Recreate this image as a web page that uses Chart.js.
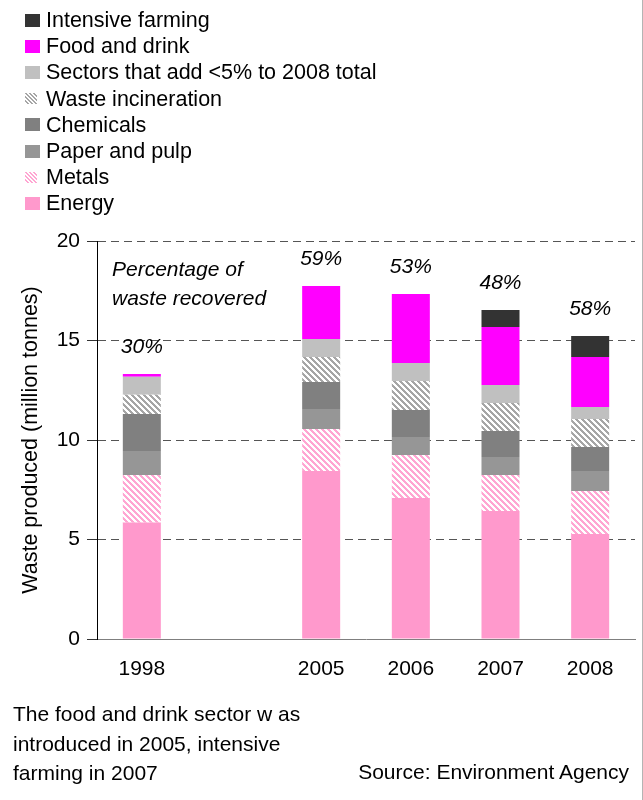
<!DOCTYPE html>
<html>
<head>
<meta charset="utf-8">
<script src="https://cdn.jsdelivr.net/npm/chart.js@4/dist/chart.umd.min.js"></script>
<style>
  html, body { margin:0; padding:0; background:#fff; }
  body { width:643px; height:800px; position:relative; overflow:hidden; font-family:"Liberation Sans", Arial, sans-serif; color:#000; }
  #c { position:absolute; left:0; top:0; }
  .t { position:absolute; white-space:nowrap; font-size:21px; height:26px; line-height:26px; }
  .lg { position:absolute; white-space:nowrap; font-size:21.5px; height:26px; line-height:26px; left:46px; }
  .sw { position:absolute; left:25px; }
  #edge { position:absolute; left:642px; top:0; width:1px; height:800px; background:#b4b4b4; }
</style>
</head>
<body>
<canvas id="c" width="643" height="800"></canvas>
<div id="legend"></div>
<div class="t" style="left:13px; top:701px;">The food and drink sector w as</div>
<div class="t" style="left:13px; top:731px;">introduced in 2005, intensive</div>
<div class="t" style="left:13px; top:760px;">farming in 2007</div>
<div class="t" style="right:14px; top:759px;">Source: Environment Agency</div>
<div id="edge"></div>
<script>
// ---- data ----
const categories = ['1998', '', '2005', '2006', '2007', '2008'];
const energy     = [5.86, null, 8.44, 7.09, 6.43, 5.28];
const metals     = [2.38, null, 2.11, 2.16, 1.81, 2.16];
const paperPulp  = [1.21, null, 1.01, 0.90, 0.91, 1.00];
const chemicals  = [1.86, null, 1.35, 1.36, 1.30, 1.21];
const wasteInc   = [0.97, null, 1.26, 1.45, 1.41, 1.41];
const sectors    = [0.90, null, 0.91, 0.91, 0.90, 0.60];
const foodDrink  = [0.14, null, 2.66, 3.47, 2.92, 2.51];
const intensive  = [0.00, null, 0.00, 0.00, 0.85, 1.06];
const recovered  = ['30%', '', '59%', '53%', '48%', '58%'];
const yTicks     = [0, 5, 10, 15, 20];

// ---- hatch patterns ----
function hatchCanvas(stripe, size, width) {
  const c = document.createElement('canvas');
  c.width = size; c.height = size;
  const x = c.getContext('2d');
  x.fillStyle = '#ffffff'; x.fillRect(0, 0, size, size);
  x.fillStyle = stripe;
  for (let i = 0; i < size; i++) for (let j = 0; j < size; j++) {
    if (((i - j) % size + size) % size < width) x.fillRect(i, j, 1, 1);
  }
  return c;
}
const ctx = document.getElementById('c').getContext('2d');
const grayHatch = ctx.createPattern(hatchCanvas('#a6a6a6', 6, 3), 'repeat');
const pinkHatch = ctx.createPattern(hatchCanvas('#ffa6d2', 6, 3), 'repeat');

const series = [
  { label: 'Energy', data: energy, color: '#ff99cc' },
  { label: 'Metals', data: metals, color: pinkHatch, hatch: '#ffa6d2' },
  { label: 'Paper and pulp', data: paperPulp, color: '#969696' },
  { label: 'Chemicals', data: chemicals, color: '#808080' },
  { label: 'Waste incineration', data: wasteInc, color: grayHatch, hatch: '#a6a6a6' },
  { label: 'Sectors that add <5% to 2008 total', data: sectors, color: '#c0c0c0' },
  { label: 'Food and drink', data: foodDrink, color: '#ff00ff' },
  { label: 'Intensive farming', data: intensive, color: '#333333' }
];

// ---- HTML legend (top to bottom = reversed stack order) ----
const legendEl = document.getElementById('legend');
series.slice().reverse().forEach((s, i) => {
  const cy = 20 + i * 26.2;
  const sw = document.createElement('canvas');
  sw.className = 'sw';
  const small = !!s.hatch;
  sw.width = small ? 12 : 15; sw.height = small ? 11 : 13;
  sw.style.top = (cy - sw.height / 2) + 'px';
  const sx = sw.getContext('2d');
  sx.fillStyle = small ? sx.createPattern(hatchCanvas(s.hatch, 4, 2), 'repeat') : s.color;
  sx.fillRect(0, 0, sw.width, sw.height);
  legendEl.appendChild(sw);
  const tx = document.createElement('div');
  tx.className = 'lg';
  tx.style.top = (cy - 13) + 'px';
  tx.textContent = s.label;
  legendEl.appendChild(tx);
});

// ---- labels plugin ----
const labelPlugin = {
  id: 'labels',
  afterDatasetsDraw(chart) {
    const c = chart.ctx, xs = chart.scales.x, ys = chart.scales.y, a = chart.chartArea;
    c.save();
    c.fillStyle = '#000';
    c.font = 'italic 21px "Liberation Sans", Arial, sans-serif';
    c.textBaseline = 'middle';
    c.textAlign = 'left';
    c.fillText('Percentage of', a.left + 15, 270);
    c.fillText('waste recovered', a.left + 15, 299);
    c.textAlign = 'center';
    categories.forEach((cat, i) => {
      if (!recovered[i]) return;
      let tot = 0;
      chart.data.datasets.forEach(d => { tot += d.data[i] || 0; });
      c.fillText(recovered[i], xs.getPixelForValue(i), ys.getPixelForValue(tot) - 27);
    });
    c.restore();
  }
};

new Chart(ctx, {
  type: 'bar',
  data: {
    labels: categories,
    datasets: series.map(s => ({
      label: s.label, data: s.data, backgroundColor: s.color,
      borderWidth: 0, categoryPercentage: 1, barPercentage: 0.424
    }))
  },
  options: {
    responsive: false,
    animation: false,
    devicePixelRatio: 1,
    layout: { padding: { left: 0, top: 241, right: 8, bottom: 0 } },
    plugins: { legend: { display: false }, tooltip: { enabled: false } },
    scales: {
      x: {
        stacked: true,
        grid: { display: false, drawTicks: false },
        border: { display: true, color: '#7f7f7f', width: 1 },
        ticks: { color: '#000', padding: 18, maxRotation: 0, autoSkip: false,
                 font: { family: '"Liberation Sans", Arial, sans-serif', size: 21 } },
        afterFit: s => { s.height = 161; }
      },
      y: {
        stacked: true, min: 0, max: 20,
        afterBuildTicks: s => { s.ticks = yTicks.map(v => ({ value: v })); },
        grid: {
          color: c => (c.tick && c.tick.value === 0) ? 'rgba(0,0,0,0)' : '#555555',
          lineWidth: 1, drawTicks: true, tickLength: 10, tickColor: '#333', tickBorderDash: []
        },
        border: { display: true, color: '#000', width: 1, dash: [8, 5] },
        ticks: { color: '#000', padding: 7,
                 font: { family: '"Liberation Sans", Arial, sans-serif', size: 21 } },
        title: { display: true, text: 'Waste produced (million tonnes)', color: '#000',
                 padding: { top: 18, bottom: 0 },
                 font: { family: '"Liberation Sans", Arial, sans-serif', size: 21.5 } },
        afterFit: s => { s.width = 97; }
      }
    }
  },
  plugins: [labelPlugin]
});
</script>
</body>
</html>
